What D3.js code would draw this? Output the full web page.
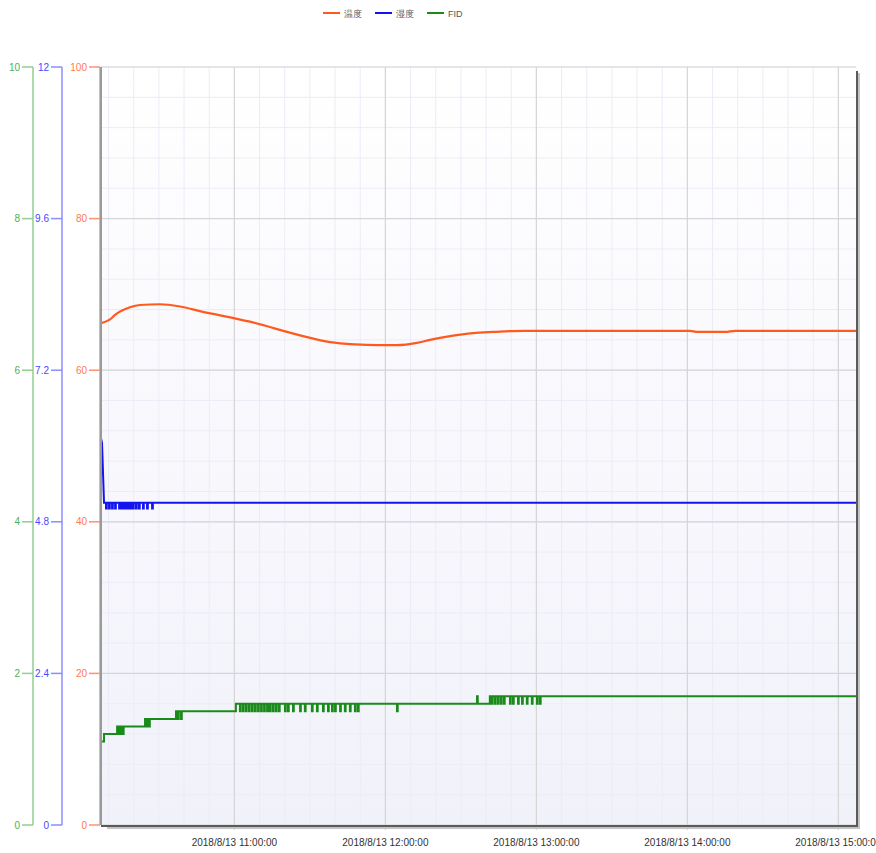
<!DOCTYPE html>
<html>
<head>
<meta charset="utf-8">
<script src="https://cdn.jsdelivr.net/npm/d3@7"></script>
<style>
  body { margin: 0; background: #fff; }
  svg { display: block; font-family: "Liberation Sans", Arial, sans-serif; }
</style>
</head>
<body>
<svg id="chart"></svg>
<script>
// time is minutes after 2018/8/13 10:07:00
var startTime = new Date(2018, 7, 13, 10, 7, 0);
var spanMinutes = 300;

var seriesNames = ["温度", "湿度", "FID"];
var seriesColors = ["#ff5a1e", "#1414f0", "#1a8a1a"];

var tempPoints = [
  [0, 66.2], [3.6, 66.7], [5.6, 67.3], [11.5, 68.3], [15.5, 68.6], [23.4, 68.7],
  [31.4, 68.4], [39.3, 67.8], [59.2, 66.4], [79.1, 64.6], [91.0, 63.7], [101, 63.4],
  [110, 63.3], [117.6, 63.3], [125.5, 63.6], [130.7, 64.0], [138.7, 64.5],
  [147.8, 64.9], [156, 65.05], [168, 65.2], [181.2, 65.2], [234, 65.2],
  [237, 65.05], [248, 65.05], [252, 65.2], [300, 65.2]
];

var humidPoints = [[0, 6.12], [0.4, 6.05], [1.2, 5.10], [300, 5.10]];
var humidDips = [2.0, 3.2, 4.4, 5.6, 7.2, 7.9, 8.7, 9.5, 10.3, 11.1, 11.9, 12.7, 13.9, 15.1, 16.7, 18.3, 20.3];
var humidDipSize = -0.09;

var fidSteps = [[0, 1.1], [1.2, 1.2], [6.4, 1.3], [17.5, 1.4], [29.8, 1.5], [53.6, 1.6], [154.5, 1.7]];
var fidDips = [7.2, 7.9, 8.7, 18.3, 19.1, 30.6, 31.8,
  55.2, 56.4, 57.6, 58.8, 60.0, 61.2, 62.4, 63.6, 64.8, 66.0, 67.1, 68.3, 69.5, 70.7,
  73.1, 74.3, 76.3, 79.1, 81.0, 83.8, 85.8, 88.2, 90.2, 91.8, 93.0, 95.0, 96.9, 98.9,
  100.9, 102.1, 117.6,
  155.3, 156.5, 157.7, 158.9, 160.1, 162.5, 163.7, 165.7, 167.3, 169.2, 171.2, 173.2, 174.4];
var fidUps = [149.4];

var tempTicks = [0, 20, 40, 60, 80, 100];
var humidTicks = [0, 2.4, 4.8, 7.2, 9.6, 12];
var fidTicks = [0, 2, 4, 6, 8, 10];

var width = 876, height = 853;
var pLeft = 101, pRight = 856, pTop = 67, pBottom = 825;

var svg = d3.select("#chart").attr("width", width).attr("height", height);

function toDate(m) { return new Date(startTime.getTime() + m * 60000); }

var x = d3.scaleTime()
    .domain([startTime, toDate(spanMinutes)])
    .range([pLeft, pRight]);
var yT = d3.scaleLinear().domain([0, 100]).range([pBottom, pTop]);
var yH = d3.scaleLinear().domain([0, 12]).range([pBottom, pTop]);
var yF = d3.scaleLinear().domain([0, 10]).range([pBottom, pTop]);

// background gradient
var defs = svg.append("defs");
var grad = defs.append("linearGradient").attr("id", "bg").attr("x1", 0).attr("y1", 0).attr("x2", 0).attr("y2", 1);
grad.append("stop").attr("offset", "0%").attr("stop-color", "#ffffff");
grad.append("stop").attr("offset", "100%").attr("stop-color", "#f1f1fa");

svg.append("rect")
    .attr("x", pLeft).attr("y", pTop)
    .attr("width", pRight - pLeft).attr("height", pBottom - pTop)
    .attr("fill", "url(#bg)");

// grid
var g = svg.append("g");
var minorX = d3.timeMinute.every(10).range(startTime, toDate(spanMinutes));
var majorX = d3.timeHour.every(1).range(startTime, toDate(spanMinutes + 1));
var minorY = d3.range(0, 101, 4);

g.selectAll(".minor-y").data(minorY).enter().append("line")
    .attr("x1", pLeft).attr("x2", pRight)
    .attr("y1", function(d) { return yT(d); }).attr("y2", function(d) { return yT(d); })
    .attr("stroke", "#ececf7").attr("stroke-width", 1);
g.selectAll(".minor-x").data(minorX).enter().append("line")
    .attr("x1", function(d) { return x(d); }).attr("x2", function(d) { return x(d); })
    .attr("y1", pTop).attr("y2", pBottom)
    .attr("stroke", "#ececf7").attr("stroke-width", 1);
g.selectAll(".major-y").data(tempTicks).enter().append("line")
    .attr("x1", pLeft).attr("x2", pRight)
    .attr("y1", function(d) { return yT(d); }).attr("y2", function(d) { return yT(d); })
    .attr("stroke", "#d6d6d6").attr("stroke-width", 1.2);
g.selectAll(".major-x").data(majorX).enter().append("line")
    .attr("x1", function(d) { return x(d); }).attr("x2", function(d) { return x(d); })
    .attr("y1", pTop).attr("y2", pBottom + 5)
    .attr("stroke", "#d6d6d6").attr("stroke-width", 1.2);

// series builders
function withDips(points, dips, size) {
  var out = points.slice();
  dips.forEach(function(t) {
    var base = points.filter(function(p) { return p[0] <= t; });
    var level = base[base.length - 1][1];
    out.push([t, level], [t, level + size], [t + 0.3, level + size], [t + 0.3, level]);
  });
  return out.map(function(p, i) { return [p[0], p[1], i]; })
    .sort(function(a, b) { return a[0] - b[0] || a[2] - b[2]; });
}

function stepPoints(steps, end) {
  var out = [steps[0]];
  for (var i = 1; i < steps.length; i++) {
    out.push([steps[i][0], steps[i - 1][1]], steps[i]);
  }
  out.push([end, steps[steps.length - 1][1]]);
  return out;
}

function fidSeries() {
  var out = stepPoints(fidSteps, spanMinutes);
  function levelAt(t) {
    var s = fidSteps.filter(function(p) { return p[0] <= t; });
    return s[s.length - 1][1];
  }
  fidDips.forEach(function(t) {
    var l = levelAt(t);
    out.push([t, l], [t, l - 0.1], [t + 0.3, l - 0.1], [t + 0.3, l]);
  });
  fidUps.forEach(function(t) {
    var l = levelAt(t);
    out.push([t, l], [t, l + 0.1], [t + 0.3, l + 0.1], [t + 0.3, l]);
  });
  // keep inserted order for equal times
  return out.map(function(p, i) { return [p[0], p[1], i]; })
    .sort(function(a, b) { return a[0] - b[0] || a[2] - b[2]; });
}

var plot = svg.append("g");

plot.append("path")
    .datum(fidSeries())
    .attr("fill", "none").attr("stroke", seriesColors[2]).attr("stroke-width", 2)
    .attr("d", d3.line().x(function(d) { return x(toDate(d[0])); }).y(function(d) { return yF(d[1]); }));

plot.append("path")
    .datum(withDips(humidPoints, humidDips, humidDipSize))
    .attr("fill", "none").attr("stroke", seriesColors[1]).attr("stroke-width", 2)
    .attr("d", d3.line().x(function(d) { return x(toDate(d[0])); }).y(function(d) { return yH(d[1]); }));

plot.append("path")
    .datum(tempPoints)
    .attr("fill", "none").attr("stroke", seriesColors[0]).attr("stroke-width", 2.2)
    .attr("d", d3.line().curve(d3.curveMonotoneX)
        .x(function(d) { return x(toDate(d[0])); }).y(function(d) { return yT(d[1]); }));

// frame: dark right/bottom with shadow
svg.append("path")
    .attr("d", "M" + (pRight + 3) + "," + (pTop + 6) + "V" + (pBottom + 3) + "H" + (pLeft + 6))
    .attr("fill", "none").attr("stroke", "#c4c4c4").attr("stroke-width", 2);
svg.append("path")
    .attr("d", "M" + (pRight + 1) + "," + (pTop + 4) + "V" + (pBottom + 1) + "H" + pLeft)
    .attr("fill", "none").attr("stroke", "#5a5a5a").attr("stroke-width", 2);

// x axis labels
var fmt = d3.timeFormat("%Y/%-m/%-d %H:%M:%S");
svg.selectAll(".xlabel").data(majorX.filter(function(d) { return x(d) > pLeft + 20; }))
  .enter().append("text")
    .attr("x", function(d) { return x(d); })
    .attr("y", 846)
    .attr("text-anchor", "middle")
    .attr("font-size", 10)
    .attr("fill", "#333")
    .text(fmt);

// y axes
function drawAxis(scale, ticks, xPos, lineColor, textColor) {
  var a = svg.append("g");
  a.append("line").attr("x1", xPos).attr("x2", xPos)
      .attr("y1", scale.range()[1]).attr("y2", scale.range()[0])
      .attr("stroke", lineColor).attr("stroke-width", 1.5);
  a.selectAll("line.tick").data(ticks).enter().append("line")
      .attr("x1", xPos - 11).attr("x2", xPos)
      .attr("y1", function(d) { return scale(d); }).attr("y2", function(d) { return scale(d); })
      .attr("stroke", lineColor).attr("stroke-width", 1.5);
  a.selectAll("text").data(ticks).enter().append("text")
      .attr("x", xPos - 13)
      .attr("y", function(d) { return scale(d) + 3.5; })
      .attr("text-anchor", "end")
      .attr("font-size", 10)
      .attr("fill", textColor)
      .text(function(d) { return d; });
}

drawAxis(yF, fidTicks, 33, "#8fcf8f", "#50b050");
drawAxis(yH, humidTicks, 62, "#8c8cff", "#4848ff");
drawAxis(yT, tempTicks, 100, "#ff9070", "#ff7a50");
svg.append("line").attr("x1", pLeft).attr("x2", pLeft).attr("y1", pTop).attr("y2", pBottom)
    .attr("stroke", "#9a9a9a").attr("stroke-width", 2);

// legend
var legend = svg.append("g").attr("transform", "translate(323,13)");
var legendX = [0, 52, 104];
seriesNames.forEach(function(name, i) {
  var item = legend.append("g").attr("transform", "translate(" + legendX[i] + ",0)");
  item.append("line").attr("x1", 0).attr("x2", 17).attr("y1", 0).attr("y2", 0)
      .attr("stroke", seriesColors[i]).attr("stroke-width", 2);
  item.append("text").attr("x", 21).attr("y", 3.5)
      .attr("font-size", 9).attr("fill", "#555").text(name);
});
</script>
</body>
</html>
